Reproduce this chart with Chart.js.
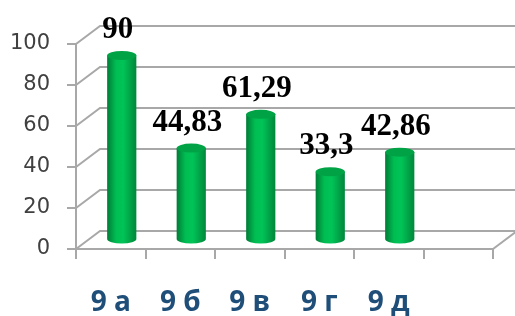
<!DOCTYPE html>
<html>
<head>
<meta charset="utf-8">
<script src="https://cdn.jsdelivr.net/npm/chart.js@4/dist/chart.umd.min.js"></script>
<style>
  html, body { margin: 0; padding: 0; background: #fff; }
  #wrap { width: 515px; height: 316px; position: relative; }
</style>
</head>
<body>
<div id="wrap"><canvas id="chart"></canvas></div>
<script>
const classes = ["9а", "9б", "9в", "9г", "9д", ""];
const percents = [90, 44.83, 61.29, 33.3, 42.86, null];
const yTicks = [0, 20, 40, 60, 80, 100];

const gridColor = "#a8a8a8";
const depth = { x: 24, y: -18 };   // back wall offset
const mid = { x: 11, y: -9 };      // bars sit halfway in depth

const cylinder = {
  id: "cylinder",
  beforeDatasetsDraw(chart) {
    const { ctx, chartArea, scales } = chart;
    const left = chartArea.left;
    ctx.save();
    ctx.strokeStyle = gridColor;
    ctx.lineWidth = 2;
    yTicks.forEach((v) => {
      const y = scales.y.getPixelForValue(v);
      ctx.beginPath();
      ctx.moveTo(left, y);
      ctx.lineTo(left + depth.x, y + depth.y);
      ctx.lineTo(chart.width, y + depth.y);
      ctx.stroke();
    });
    // right edge of the floor
    ctx.beginPath();
    ctx.moveTo(chartArea.right, chartArea.bottom);
    ctx.lineTo(chartArea.right + depth.x, chartArea.bottom + depth.y);
    ctx.stroke();
    ctx.restore();

    // body gradient for every bar
    const meta = chart.getDatasetMeta(0);
    meta.data.forEach((bar) => {
      const w = bar.width;
      const g = ctx.createLinearGradient(bar.x - w / 2, 0, bar.x + w / 2, 0);
      g.addColorStop(0, "#007c36");
      g.addColorStop(0.3, "#00bd52");
      g.addColorStop(0.55, "#00c457");
      g.addColorStop(1, "#00873b");
      bar.options.backgroundColor = g;
      bar.$grad = g;
    });

    ctx.save();
    ctx.translate(mid.x, mid.y);
  },
  afterDatasetsDraw(chart) {
    const { ctx } = chart;
    const meta = chart.getDatasetMeta(0);
    const ry = 4.5;
    meta.data.forEach((bar, i) => {
      if (percents[i] == null) return;
      const rx = bar.width / 2;
      // rounded base
      ctx.fillStyle = bar.$grad;
      ctx.beginPath();
      ctx.ellipse(bar.x, bar.base, rx, ry, 0, 0, Math.PI);
      ctx.fill();
      // top cap
      ctx.fillStyle = "#00a246";
      ctx.beginPath();
      ctx.ellipse(bar.x, bar.y, rx, ry, 0, 0, Math.PI * 2);
      ctx.fill();
      // value label
      ctx.fillStyle = "#000";
      ctx.font = "bold 31px 'Liberation Serif'";
      ctx.textAlign = "center";
      ctx.textBaseline = "alphabetic";
      ctx.fillText(String(percents[i]).replace(".", ","), bar.x - 4, bar.y - ry - 13);
    });
    ctx.restore();
  }
};

new Chart(document.getElementById("chart"), {
  type: "bar",
  data: {
    labels: classes,
    datasets: [{
      data: percents,
      backgroundColor: () => "#00b050",
      borderWidth: 0,
      categoryPercentage: 1,
      barPercentage: 0.42
    }]
  },
  options: {
    responsive: true,
    maintainAspectRatio: false,
    animation: false,
    layout: { padding: { left: 0, top: 44, right: 22, bottom: 0 } },
    plugins: { legend: { display: false }, tooltip: { enabled: false } },
    scales: {
      x: {
        afterFit: (s) => { s.height = 67; },
        grid: { drawOnChartArea: false, color: gridColor, lineWidth: 2, tickLength: 10 },
        border: { color: gridColor, width: 2 },
        ticks: {
          padding: 27,
          color: "#1f4e79",
          font: { family: "'Open Sans'", size: 28, weight: "bold" },
          callback: (v, i) => classes[i].split("").join(" ")
        }
      },
      y: {
        min: 0,
        max: 100,
        afterFit: (s) => { s.width = 76; },
        grid: { drawOnChartArea: false, color: gridColor, lineWidth: 2, tickLength: 9 },
        border: { color: gridColor, width: 2 },
        ticks: {
          stepSize: 20,
          padding: 17,
          color: "#404040",
          font: { family: "'DejaVu Sans'", size: 21 }
        }
      }
    }
  },
  plugins: [cylinder]
});
</script>
</body>
</html>
